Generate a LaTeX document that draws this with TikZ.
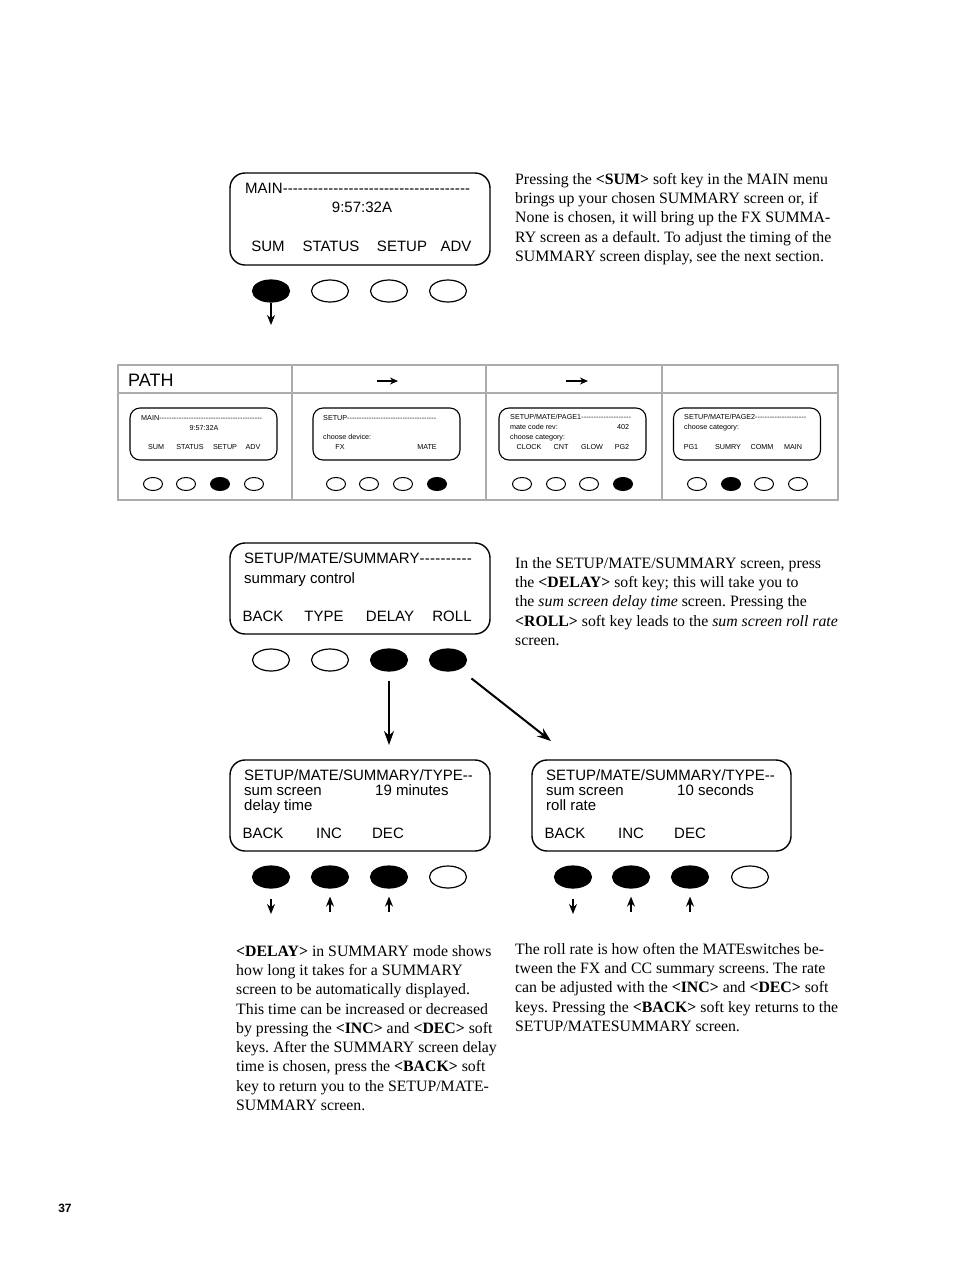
\documentclass[tikz,border=0pt]{standalone}
\usepackage{fontspec}
\setmainfont{Liberation Serif}
\setsansfont{Liberation Sans}
\newfontfamily\lcdfont{Liberation Sans}
\usetikzlibrary{shapes.geometric, arrows.meta, positioning}
\newcommand\dashfill[2]{\makebox[#1][l]{#2\xleaders\hbox{-}\hfill}}
\frenchspacing

\begin{document}
\begin{tikzpicture}[x=1pt, y=-1pt,
  screen/.style = {draw, line width=1.4pt, rounded corners=15pt, minimum width=260pt, minimum height=92pt, inner sep=0pt},
  mini/.style = {draw, line width=1.1pt, rounded corners=10pt, minimum width=147pt, minimum height=52pt, inner sep=0pt},
  key/.style = {draw, ellipse, line width=1.2pt, minimum width=37pt, minimum height=22pt, inner sep=0pt},
  keyon/.style = {key, fill=black},
  minikey/.style = {draw, ellipse, line width=1pt, minimum width=19pt, minimum height=13pt, inner sep=0pt},
  minikeyon/.style = {minikey, fill=black},
  lcd/.style = {font=\lcdfont\fontsize{15}{15}\selectfont, inner sep=0pt, anchor=base},
  tiny/.style = {font=\lcdfont\fontsize{7.2}{7.2}\selectfont, inner sep=0pt, anchor=base},
  para/.style = {font=\fontsize{15.8}{19.3}\selectfont, align=left, anchor=north west, inner sep=0pt},
  tip/.style = {-{Stealth[length=10pt, width=8pt]}, line width=1.5pt},
  bigtip/.style = {-{Stealth[length=14pt, width=10pt]}, line width=2pt},
  grid/.style = {draw=gray!65, line width=2.4pt}]

\useasboundingbox (0,0) rectangle (954,1272);

% MAIN screen
\node[screen] (main) at (360,219) {};
\node[lcd, anchor=base west] (m0) at (245,193) {\dashfill{225pt}{MAIN}};
\node[lcd] (mt) at (362,212) {9:57:32A};
\node[lcd] at (268,251) {SUM};
\node[lcd] at (331,251) {STATUS};
\node[lcd] at (402,251) {SETUP};
\node[lcd] at (456,251) {ADV};
\node[keyon] (k1) at (271,291) {};
\node[key]   (k2) at (330,291) {};
\node[key]   (k3) at (389,291) {};
\node[key]   (k4) at (448,291) {};
\coordinate (k1e) at (271,325);
\draw[tip] (k1.south) -- (k1e);

\node[para] (p1) at (515,173) {Pressing the \textbf{<SUM>} soft key in the MAIN menu\\
brings up your chosen SUMMARY screen or, if\\
None is chosen, it will bring up the FX SUMMA-\\
RY screen as a default. To adjust the timing of the\\
SUMMARY screen display, see the next section.};

% PATH table
\draw[grid] (118,365) rectangle (838,500);
\draw[grid] (118,393) -- (838,393);
\foreach \x in {292,486,662}
  \draw[grid] (\x,365) -- (\x,500);
\node[font=\lcdfont\fontsize{18}{18}\selectfont, anchor=west, inner sep=0pt] (path) at (128,380) {PATH};
\coordinate (h1a) at (377,381); \coordinate (h1b) at (398,381);
\coordinate (h2a) at (566,381); \coordinate (h2b) at (588,381);
\draw[-{Stealth[length=8pt, width=7pt]}, line width=1.5pt] (h1a) -- (h1b);
\draw[-{Stealth[length=8pt, width=7pt]}, line width=1.5pt] (h2a) -- (h2b);

% path screens
\node[mini] (s1) at (203.5,434) {};
\node[tiny, anchor=base west] at (141,420.6) {\dashfill{121pt}{MAIN}};
\node[tiny] at (204,430.6) {9:57:32A};
\node[tiny] at (156,449.6) {SUM};
\node[tiny] at (190,449.6) {STATUS};
\node[tiny] at (225,449.6) {SETUP};
\node[tiny] at (253,449.6) {ADV};

\node[mini] (s2) at (386.5,434) {};
\node[tiny, anchor=base west] at (323,420.6) {\dashfill{113pt}{SETUP}};
\node[tiny, anchor=base west] at (323,439.6) {choose device:};
\node[tiny] at (340,449.6) {FX};
\node[tiny] at (427,449.6) {MATE};

\node[mini] (s3) at (572.5,434) {};
\node[tiny, anchor=base west] at (510,419.6) {\dashfill{121pt}{SETUP/MATE/PAGE1}};
\node[tiny, anchor=base west] at (510,429.6) {mate code rev:};
\node[tiny] at (623,429.6) {402};
\node[tiny, anchor=base west] at (510,439.6) {choose category:};
\node[tiny] at (529,449.6) {CLOCK};
\node[tiny] at (561,449.6) {CNT};
\node[tiny] at (592,449.6) {GLOW};
\node[tiny] at (622,449.6) {PG2};

\node[mini] (s4) at (747,434) {};
\node[tiny, anchor=base west] at (684,419.6) {\dashfill{122pt}{SETUP/MATE/PAGE2}};
\node[tiny, anchor=base west] at (684,429.6) {choose category:};
\node[tiny] at (691,449.6) {PG1};
\node[tiny] at (728,449.6) {SUMRY};
\node[tiny] at (762,449.6) {COMM};
\node[tiny] at (793,449.6) {MAIN};

\node[minikey]   at (153,484) {};
\node[minikey]   at (186,484) {};
\node[minikeyon] at (220,484) {};
\node[minikey]   at (254,484) {};
\node[minikey]   at (336,484) {};
\node[minikey]   at (369,484) {};
\node[minikey]   at (403,484) {};
\node[minikeyon] at (437,484) {};
\node[minikey]   at (522,484) {};
\node[minikey]   at (556,484) {};
\node[minikey]   at (589,484) {};
\node[minikeyon] at (623,484) {};
\node[minikey]   at (697,484) {};
\node[minikeyon] at (731,484) {};
\node[minikey]   at (764,484) {};
\node[minikey]   at (798,484) {};

% SUMMARY screen
\node[screen, minimum height=91pt] (sum) at (360,588.5) {};
\node[lcd, anchor=base west] at (244,563) {\dashfill{228pt}{SETUP/MATE/SUMMARY}};
\node[lcd, anchor=base west] at (244,583) {summary control};
\node[lcd] at (263,621) {BACK};
\node[lcd] at (324,621) {TYPE};
\node[lcd] at (390,621) {DELAY};
\node[lcd] at (452,621) {ROLL};
\node[key]   (m1) at (271,660) {};
\node[key]   (m2) at (330,660) {};
\node[keyon] (m3) at (389,660) {};
\node[keyon] (m4) at (448,660) {};

\node[para] (p2) at (515,557) {In the SETUP/MATE/SUMMARY screen, press\\
the \textbf{<DELAY>} soft key; this will take you to\\
the \textit{sum screen delay time} screen. Pressing the\\
\textbf{<ROLL>} soft key leads to the \textit{sum screen roll rate}\\
screen.};

% delay time screen
\node[screen, minimum height=91pt] (dly) at (360,805.5) {};
\node[lcd, anchor=base west] at (244,780) {SETUP/MATE/SUMMARY/TYPE-{}-};
\node[lcd, anchor=base west] at (244,795) {sum screen};
\node[lcd, anchor=base west] at (375,795) {19 minutes};
\node[lcd, anchor=base west] at (244,810) {delay time};
\node[lcd] at (263,838) {BACK};
\node[lcd] at (329,838) {INC};
\node[lcd] at (388,838) {DEC};
\node[keyon] (d1) at (271,877) {};
\node[keyon] (d2) at (330,877) {};
\node[keyon] (d3) at (389,877) {};
\node[key]   (d4) at (448,877) {};

% roll rate screen
\node[screen, minimum width=259pt, minimum height=91pt] (rol) at (661.5,805.5) {};
\node[lcd, anchor=base west] at (546,780) {SETUP/MATE/SUMMARY/TYPE-{}-};
\node[lcd, anchor=base west] at (546,795) {sum screen};
\node[lcd, anchor=base west] at (677,795) {10 seconds};
\node[lcd, anchor=base west] at (546,810) {roll rate};
\node[lcd] at (565,838) {BACK};
\node[lcd] at (631,838) {INC};
\node[lcd] at (690,838) {DEC};
\node[keyon] (r1) at (573,877) {};
\node[keyon] (r2) at (631,877) {};
\node[keyon] (r3) at (690,877) {};
\node[key]   (r4) at (750,877) {};

% arrows to the two screens
\coordinate (dlyin) at (389,745);
\coordinate (rolin) at (551,741);
\draw[bigtip, shorten <=9pt] (m3.south) -- (dlyin);
\draw[bigtip, shorten <=15pt] (m4) -- (rolin);

% soft key arrows
\coordinate (d1e) at (271,914);
\coordinate (d2e) at (330,912);
\coordinate (d3e) at (389,912);
\coordinate (r1e) at (573,914);
\coordinate (r2e) at (631,912);
\coordinate (r3e) at (690,912);
\draw[tip, shorten <=10pt] (d1.south) -- (d1e);
\draw[tip, shorten >=8pt] (d2e) -- (d2.south);
\draw[tip, shorten >=8pt] (d3e) -- (d3.south);
\draw[tip, shorten <=10pt] (r1.south) -- (r1e);
\draw[tip, shorten >=8pt] (r2e) -- (r2.south);
\draw[tip, shorten >=8pt] (r3e) -- (r3.south);

\node[para] (p3) at (236,945) {\textbf{<DELAY>} in SUMMARY mode shows\\
how long it takes for a SUMMARY\\
screen to be automatically displayed.\\
This time can be increased or decreased\\
by pressing the \textbf{<INC>} and \textbf{<DEC>} soft\\
keys. After the SUMMARY screen delay\\
time is chosen, press the \textbf{<BACK>} soft\\
key to return you to the SETUP/MATE-\\
SUMMARY screen.};

\node[para] (p4) at (515,943) {The roll rate is how often the MATEswitches be-\\
tween the FX and CC summary screens. The rate\\
can be adjusted with the \textbf{<INC>} and \textbf{<DEC>} soft\\
keys. Pressing the \textbf{<BACK>} soft key returns to the\\
SETUP/MATESUMMARY screen.};

\node[font=\sffamily\bfseries\fontsize{12}{12}\selectfont, inner sep=0pt] (pg) at (65,1208) {37};
\end{tikzpicture}
\end{document}
